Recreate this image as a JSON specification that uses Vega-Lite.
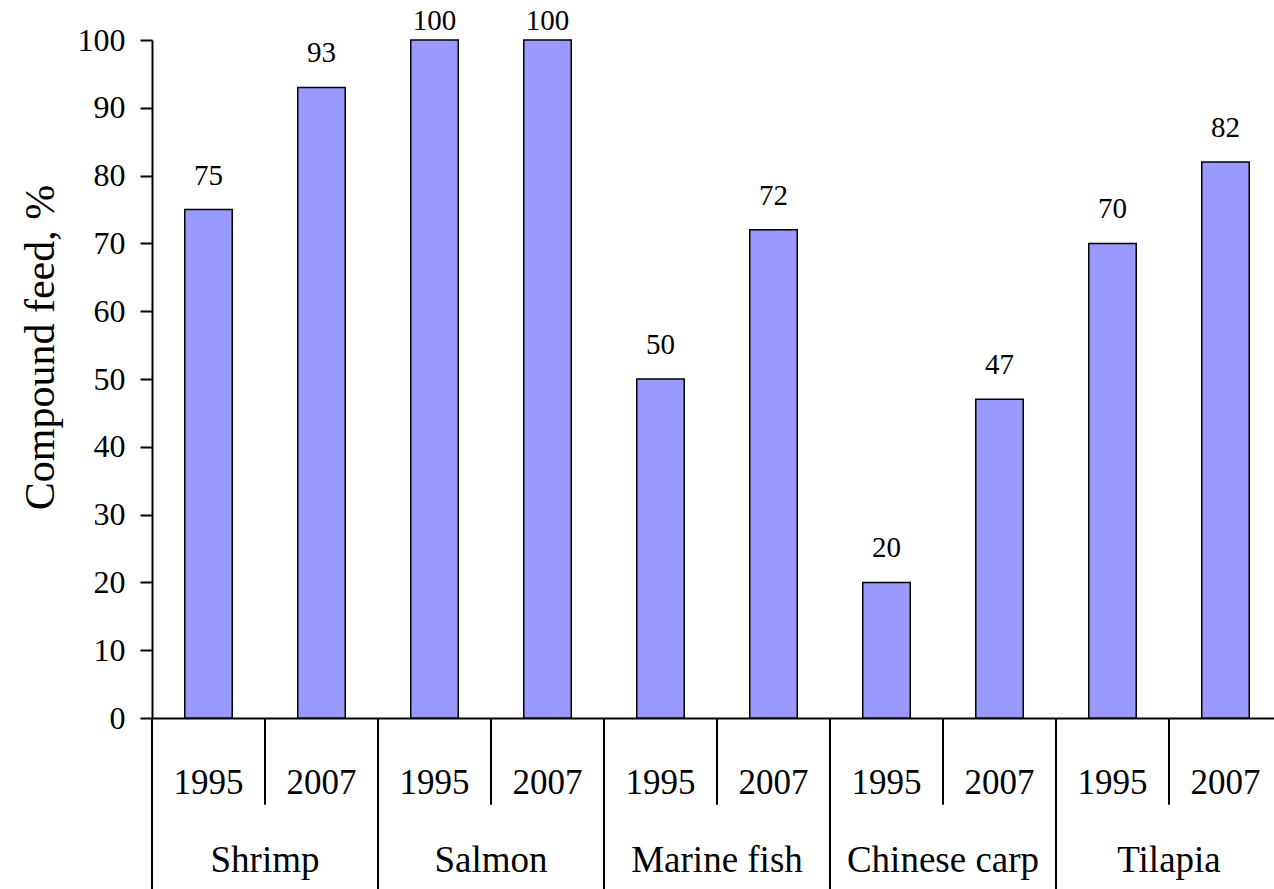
{
  "$schema": "https://vega.github.io/schema/vega-lite/v6.json",
  "autosize": {"type": "none"},
  "padding": {"left": 152, "top": 40, "right": 0, "bottom": 171},
  "width": 1130,
  "height": 678,
  "background": "white",
  "config": {
    "view": {"stroke": null},
    "font": "Liberation Serif",
    "text": {"font": "Liberation Serif"},
    "axis": {"labelFont": "Liberation Serif", "titleFont": "Liberation Serif", "labelColor": "black", "titleColor": "black", "domainColor": "black", "tickColor": "black"}
  },
  "data": {
    "values": [
      {"key": "Shrimp 1995", "group": "Shrimp", "year": "1995", "value": 75},
      {"key": "Shrimp 2007", "group": "Shrimp", "year": "2007", "value": 93},
      {"key": "Salmon 1995", "group": "Salmon", "year": "1995", "value": 100},
      {"key": "Salmon 2007", "group": "Salmon", "year": "2007", "value": 100},
      {"key": "Marine fish 1995", "group": "Marine fish", "year": "1995", "value": 50},
      {"key": "Marine fish 2007", "group": "Marine fish", "year": "2007", "value": 72},
      {"key": "Chinese carp 1995", "group": "Chinese carp", "year": "1995", "value": 20},
      {"key": "Chinese carp 2007", "group": "Chinese carp", "year": "2007", "value": 47},
      {"key": "Tilapia 1995", "group": "Tilapia", "year": "1995", "value": 70},
      {"key": "Tilapia 2007", "group": "Tilapia", "year": "2007", "value": 82}
    ]
  },
  "encoding": {
    "x": {
      "field": "key",
      "type": "nominal",
      "sort": null,
      "scale": {"paddingInner": 0, "paddingOuter": 0},
      "axis": {
        "title": null,
        "orient": "bottom",
        "ticks": false,
        "labelAngle": 0,
        "labelExpr": "slice(datum.label, -4)",
        "labelFont": "Liberation Serif",
        "labelFontSize": 35,
        "labelBaseline": "alphabetic",
        "labelPadding": 75,
        "domainWidth": 2
      }
    }
  },
  "layer": [
    {
      "mark": {"type": "bar", "width": {"band": 0.42}, "fill": "#9999FF", "stroke": "black", "strokeWidth": 1.5},
      "encoding": {
        "y": {
          "field": "value",
          "type": "quantitative",
          "scale": {"domain": [0, 100], "nice": false},
          "axis": {
            "title": "Compound feed, %",
            "titleFont": "Liberation Serif",
            "titleFontSize": 42,
            "titleFontWeight": "normal",
            "titleAngle": -90,
            "titleX": -112,
            "titleY": 307,
            "titleAlign": "center",
            "titleBaseline": "middle",
            "values": [0, 10, 20, 30, 40, 50, 60, 70, 80, 90, 100],
            "grid": false,
            "tickSize": 12,
            "tickWidth": 2,
            "domainWidth": 2,
            "labelFont": "Liberation Serif",
            "labelFontSize": 32,
            "labelPadding": 15
          }
        }
      }
    },
    {
      "transform": [{"filter": "datum.value < 100"}],
      "mark": {"type": "text", "font": "Liberation Serif", "fontSize": 29, "baseline": "alphabetic", "dy": -25, "color": "black"},
      "encoding": {
        "y": {"field": "value", "type": "quantitative"},
        "text": {"field": "value", "type": "quantitative"}
      }
    },
    {
      "transform": [{"filter": "datum.value >= 100"}],
      "mark": {"type": "text", "font": "Liberation Serif", "fontSize": 29, "baseline": "alphabetic", "dy": -10, "color": "black"},
      "encoding": {
        "y": {"field": "value", "type": "quantitative"},
        "text": {"field": "value", "type": "quantitative"}
      }
    },
    {
      "transform": [{"filter": "datum.year == '1995'"}],
      "mark": {"type": "rule", "color": "black", "strokeWidth": 2, "clip": false},
      "encoding": {
        "x": {"field": "key", "type": "nominal", "sort": null, "bandPosition": 0},
        "y": {"datum": 0},
        "y2": {"datum": -25.4}
      }
    },
    {
      "transform": [{"filter": "datum.year == '2007'"}],
      "mark": {"type": "rule", "color": "black", "strokeWidth": 2, "clip": false},
      "encoding": {
        "x": {"field": "key", "type": "nominal", "sort": null, "bandPosition": 0},
        "y": {"datum": 0},
        "y2": {"datum": -12.8}
      }
    },
    {
      "transform": [{"filter": "datum.year == '2007'"}],
      "mark": {"type": "text", "font": "Liberation Serif", "fontSize": 37, "baseline": "alphabetic", "align": "center", "color": "black", "clip": false},
      "encoding": {
        "x": {"field": "key", "type": "nominal", "sort": null, "bandPosition": 0},
        "y": {"datum": -22.7},
        "text": {"field": "group", "type": "nominal"}
      }
    }
  ]
}
